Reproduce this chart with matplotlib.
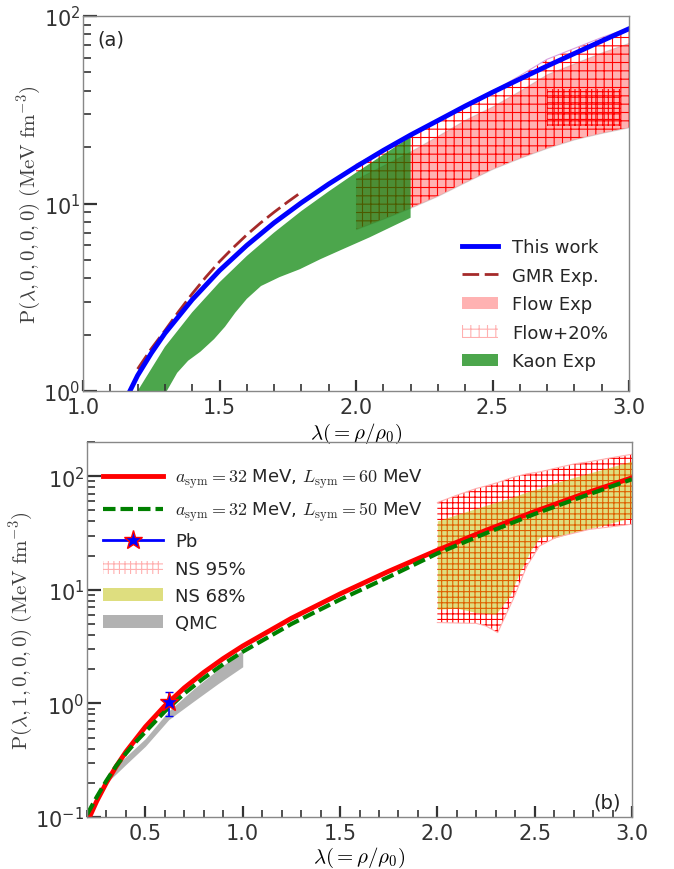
import matplotlib
matplotlib.use('Agg')
import matplotlib.pyplot as plt
from matplotlib.patches import Patch
from matplotlib.ticker import MultipleLocator

plt.rcParams['mathtext.fontset'] = 'cm'
plt.rcParams['font.family'] = 'DejaVu Sans'
plt.rcParams['hatch.linewidth'] = 0.8
plt.rcParams['axes.unicode_minus'] = False
plt.rcParams['text.color'] = '#262626'

# ---- panel (a) data ----
this_x = [1.165, 1.2, 1.25, 1.3, 1.4, 1.5, 1.6, 1.7, 1.8, 1.9, 2.0, 2.1, 2.2, 2.3, 2.4, 2.5, 2.6, 2.7, 2.8, 2.9, 3.0]
this_y = [0.955, 1.21, 1.59, 2.03, 3.07, 4.39, 5.98, 7.89, 10.1, 12.7, 15.7, 19.2, 23.2, 27.7, 33.1,
          39.2, 46.1, 54.1, 63.1, 73.6, 85.5]

gmr_x = [1.2, 1.25, 1.3, 1.35, 1.4, 1.45, 1.5, 1.55, 1.6, 1.65, 1.7, 1.75, 1.8]
gmr_y = [1.31, 1.68, 2.1, 2.65, 3.3, 4.05, 4.9, 5.81, 6.81, 7.87, 8.99, 10.2, 11.5]

kaon_up_x = [1.2, 1.3, 1.4, 1.5, 1.6, 1.7, 1.8, 1.9, 2.0, 2.1, 2.2]
kaon_up_y = [1.0, 1.72, 2.63, 3.8, 5.25, 7.0, 9.12, 11.6, 14.6, 18.2, 22.7]
kaon_lo_x = [1.2, 1.307, 1.345, 1.385, 1.43, 1.48, 1.52, 1.558, 1.6, 1.652, 1.72, 1.794, 1.87, 1.951, 2.05, 2.2]
kaon_lo_y = [0.6, 1.0, 1.25, 1.45, 1.62, 1.89, 2.2, 2.62, 3.1, 3.63, 4.05, 4.46, 5.05, 5.7, 6.6, 8.4]

flow_x = [2.0, 2.1, 2.2, 2.3, 2.4, 2.5, 2.6, 2.7, 2.8, 2.9, 3.0]
flow_lo = [7.3, 8.3, 9.5, 11.0, 13.0, 15.3, 17.5, 19.8, 22.0, 23.8, 25.5]
flow_hi = [13.5, 16.0, 19.0, 23.0, 28.0, 33.0, 40.0, 49.0, 56.0, 64.0, 72.0]
flow20_hi = [16.2, 19.2, 22.8, 27.6, 33.6, 39.6, 48.0, 58.8, 67.2, 76.8, 86.4]

patch_x = [2.7, 2.97]
patch_lo = [26.0, 26.0]
patch_hi = [41.0, 41.0]

# ---- panel (b) data ----
l60_x = [0.213, 0.25, 0.3, 0.35, 0.4, 0.5, 0.6, 0.7, 0.8, 0.9, 1.0, 1.25, 1.5, 1.75, 2.0, 2.25, 2.5, 2.75, 3.0]
l60_y = [0.1, 0.138, 0.201, 0.279, 0.375, 0.622, 0.953, 1.371, 1.875, 2.483, 3.199, 5.61, 9.2,
         14.55, 22.3, 33.4, 48.9, 69.7, 96.8]

l50_x = [0.2, 0.25, 0.3, 0.35, 0.4, 0.45, 0.5, 0.6, 0.7, 0.8, 0.9, 1.0, 1.25, 1.5, 1.75, 2.0, 2.25, 2.5, 2.75, 3.0]
l50_y = [0.105, 0.15, 0.209, 0.282, 0.363, 0.457, 0.562, 0.851, 1.222, 1.671, 2.213, 2.851, 5.0, 8.2,
         12.97, 20.9, 31.5, 46.5, 66.5, 94.0]

pb_x = [0.62]
pb_y = [1.02]
pb_err = [0.24]

qmc_x = [0.3, 0.35, 0.4, 0.5, 0.62, 0.75, 0.875, 1.0]
qmc_lo = [0.2, 0.24, 0.29, 0.42, 0.72, 1.05, 1.5, 2.1]
qmc_hi = [0.22, 0.28, 0.34, 0.49, 0.86, 1.35, 2.0, 2.95]

ns95_x = [2.0, 2.1, 2.2, 2.25, 2.31, 2.39, 2.46, 2.525, 2.61, 2.7, 2.78, 2.9, 3.0]
ns95_lo = [5.15, 5.1, 5.06, 4.8, 4.2, 8.3, 16.2, 24.3, 28.9, 31.5, 34.0, 36.0, 37.8]
ns95_hi = [58.6, 68.0, 78.0, 82.0, 88.0, 98.0, 105.0, 109.0, 118.0, 128.0, 134.0, 146.0, 156.0]

ns68_x = [2.0, 2.1, 2.2, 2.3, 2.371, 2.423, 2.483, 2.525, 2.585, 2.6, 2.697, 2.85, 3.0]
ns68_lo = [6.74, 6.9, 6.3, 6.1, 8.8, 14.2, 22.7, 28.9, 30.0, 28.5, 31.9, 37.0, 43.3]
ns68_hi = [40.4, 46.0, 52.0, 59.0, 64.0, 69.0, 75.0, 78.0, 85.0, 87.0, 97.0, 115.0, 136.0]

fig = plt.figure(figsize=(6.74, 8.70), dpi=100)
ax1 = fig.add_axes([83 / 674, 1 - 392 / 870, 546 / 674, 375 / 870])
ax2 = fig.add_axes([87 / 674, 1 - 818 / 870, 545 / 674, 375 / 870])
ax2.patch.set_alpha(0)

# panel (a)
ax1.fill_between(flow_x, flow_lo, flow_hi, facecolor='red', alpha=0.3, edgecolor='0.55', lw=0.8)
ax1.fill_between(flow_x, flow_lo, flow20_hi, facecolor='none', edgecolor='red', hatch='++', lw=0)
ax1.fill_between(patch_x, patch_lo, patch_hi, facecolor='none', edgecolor='red', hatch='+++', lw=0)
ax1.plot(flow_x, flow20_hi, color='#d8a0e0', lw=0.8)
ax1.fill(kaon_up_x + kaon_lo_x[::-1], kaon_up_y + kaon_lo_y[::-1], color='green', alpha=0.7, lw=0)
ax1.plot(gmr_x, gmr_y, color='brown', lw=2, ls=(0, (6, 2)))
ax1.plot(this_x, this_y, color='blue', lw=3.5)

handles_a = [
    plt.Line2D([], [], color='blue', lw=3.5),
    plt.Line2D([], [], color='brown', lw=2, ls=(0, (6, 2))),
    Patch(facecolor='red', alpha=0.3, edgecolor='none'),
    Patch(facecolor='none', edgecolor='#ffb0b0', hatch='++', lw=0),
    Patch(facecolor='green', alpha=0.7, edgecolor='none'),
]
labels_a = ['This work', 'GMR Exp.', 'Flow Exp', 'Flow+20%', 'Kaon Exp']
ax1.legend(handles_a, labels_a, loc='lower right', frameon=False, fontsize=13,
           handlelength=2.0, labelspacing=0.58, borderaxespad=0.75)

ax1.set_yscale('log')
ax1.set_xlim(1.0, 3.0)
ax1.set_ylim(1, 100)
ax1.xaxis.set_major_locator(MultipleLocator(0.5))
ax1.xaxis.set_minor_locator(MultipleLocator(0.1))
ax1.set_xlabel(r'$\lambda(=\rho/\rho_0)$', fontsize=15, labelpad=3)
ax1.set_ylabel(r'$\mathrm{P}(\lambda,0,0,0,0)\ (\mathrm{MeV\ fm^{-3}})$', fontsize=15, color='#404040')
ax1.text(0.027, 0.94, '(a)', transform=ax1.transAxes, fontsize=14, va='center')

# panel (b)
ax2.fill_between(ns95_x, ns95_lo, ns95_hi, facecolor='none', edgecolor='red', hatch='+++', lw=0)
ax2.plot(ns95_x, ns95_lo, color='#ffb0b0', lw=0.8)
ax2.plot(ns95_x, ns95_hi, color='#ffb0b0', lw=0.8)
ax2.fill_between(ns68_x, ns68_lo, ns68_hi, color='y', alpha=0.5, lw=0)
ax2.fill_between(qmc_x, qmc_lo, qmc_hi, color='gray', alpha=0.6, lw=0)
ax2.plot(l60_x, l60_y, color='red', lw=3.5)
ax2.plot(l50_x, l50_y, color='green', lw=3, ls=(0, (3, 1.2)))
ax2.errorbar(pb_x, pb_y, yerr=pb_err, fmt='none', ecolor='blue', capsize=3, lw=1.2)
ax2.plot(pb_x, pb_y, '*', color='blue', mec='red', ms=14, mew=1)

handles_b = [
    plt.Line2D([], [], color='red', lw=3.5),
    plt.Line2D([], [], color='green', lw=3, ls=(0, (3, 1.2))),
    plt.Line2D([], [], color='blue', lw=2, marker='*', mfc='blue', mec='red', ms=14),
    Patch(facecolor='none', edgecolor='#ffb0b0', hatch='+++', lw=0),
    Patch(facecolor='y', alpha=0.5, edgecolor='none'),
    Patch(facecolor='gray', alpha=0.6, edgecolor='none'),
]
labels_b = [r'$a_{\rm sym}=32$ MeV, $L_{\rm sym}=60$ MeV',
            r'$a_{\rm sym}=32$ MeV, $L_{\rm sym}=50$ MeV',
            'Pb', 'NS 95%', 'NS 68%', 'QMC']
ax2.legend(handles_b, labels_b, loc='upper left', bbox_to_anchor=(0.0, 0.978), frameon=False,
           fontsize=13, handlelength=3.3, labelspacing=0.5, borderaxespad=0.5, handletextpad=0.7)

ax2.set_yscale('log')
ax2.set_xlim(0.2, 3.0)
ax2.set_ylim(0.1, 200)
ax2.xaxis.set_major_locator(MultipleLocator(0.5))
ax2.xaxis.set_minor_locator(MultipleLocator(0.1))
ax2.set_xlabel(r'$\lambda(=\rho/\rho_0)$', fontsize=15, labelpad=2)
ax2.set_ylabel(r'$\mathrm{P}(\lambda,1,0,0,0)\ (\mathrm{MeV\ fm^{-3}})$', fontsize=15, color='#404040')
ax2.text(0.98, 0.04, '(b)', transform=ax2.transAxes, fontsize=14, ha='right', va='center')

for ax in (ax1, ax2):
    for sp in ax.spines.values():
        sp.set_color('#888888')
        sp.set_linewidth(1.0)
    ax.tick_params(which='both', direction='in', top=False, right=False,
                   labelsize=15, colors='#333333', labelcolor='#333333')
    ax.tick_params(axis='x', which='major', length=8, width=1.6, pad=4)
    ax.tick_params(axis='x', which='minor', length=5, width=1.2)
    ax.tick_params(axis='y', which='major', length=10, width=1.6, pad=2)
    ax.tick_params(axis='y', which='minor', length=6, width=1.2)
    ax.yaxis.labelpad = 0

fig.savefig('out.png', dpi=100)
